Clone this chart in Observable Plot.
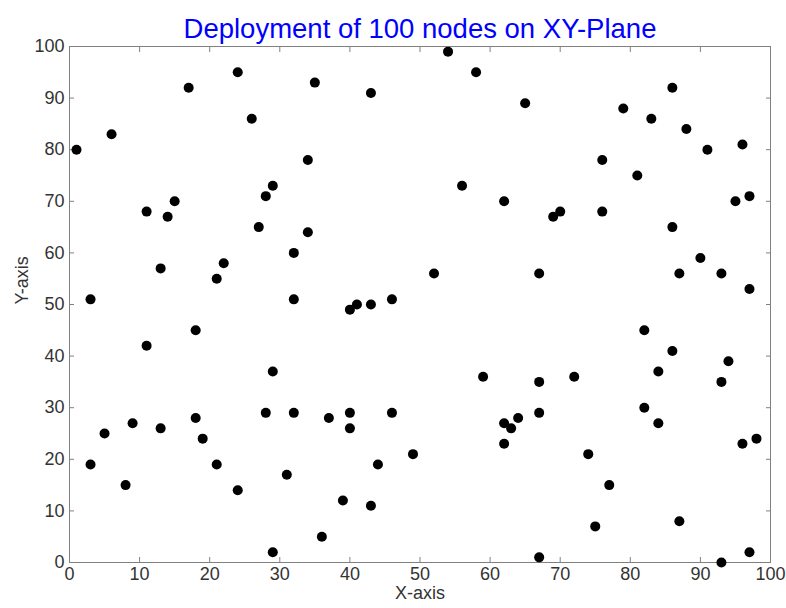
<!DOCTYPE html>
<html>
<head>
<meta charset="utf-8">
<script src="https://cdn.jsdelivr.net/npm/d3@7"></script>
<script src="https://cdn.jsdelivr.net/npm/@observablehq/plot@0.6"></script>
<style>
  html, body { margin: 0; padding: 0; background: #fff; }
  #chart svg { display: block; }
</style>
</head>
<body>
<div id="chart"></div>
<script>
const title = "Deployment of 100 nodes on XY-Plane";
const xLabel = "X-axis";
const yLabel = "Y-axis";
const xTicks = [0, 10, 20, 30, 40, 50, 60, 70, 80, 90, 100];
const yTicks = [0, 10, 20, 30, 40, 50, 60, 70, 80, 90, 100];

const nodeX = [1, 3, 3, 5, 6, 8, 9, 11, 11, 13, 13, 14, 15, 17, 18, 18, 19, 21, 21, 22,
  24, 24, 26, 27, 28, 28, 29, 29, 29, 31, 32, 32, 32, 34, 34, 35, 36, 37, 39, 40,
  40, 40, 41, 43, 43, 43, 44, 46, 46, 49, 52, 54, 56, 58, 59, 62, 62, 62, 63, 64,
  65, 67, 67, 67, 67, 69, 70, 72, 74, 75, 76, 76, 77, 79, 81, 82, 82, 83, 84, 84,
  86, 86, 86, 87, 87, 88, 90, 91, 93, 93, 93, 94, 95, 96, 96, 97, 97, 97, 98];
const nodeY = [80, 51, 19, 25, 83, 15, 27, 68, 42, 57, 26, 67, 70, 92, 45, 28, 24, 55, 19, 58,
  95, 14, 86, 65, 71, 29, 73, 37, 2, 17, 60, 51, 29, 78, 64, 93, 5, 28, 12, 49,
  29, 26, 50, 91, 50, 11, 19, 51, 29, 21, 56, 99, 73, 95, 36, 70, 27, 23, 26, 28,
  89, 56, 35, 29, 1, 67, 68, 36, 21, 7, 78, 68, 15, 88, 75, 45, 30, 86, 37, 27,
  92, 65, 41, 56, 8, 84, 59, 80, 56, 35, 0, 39, 70, 81, 23, 71, 53, 2, 24];

const nodes = nodeX.map((x, i) => ({x, y: nodeY[i]}));

const axisStroke = "#808080";
const labelFill = "#333333";

const chart = Plot.plot({
  width: 786,
  height: 608,
  marginTop: 46,
  marginBottom: 46,
  marginLeft: 69,
  marginRight: 16,
  style: {fontFamily: "Liberation Sans, Arial, sans-serif", fontSize: "18px", background: "#fff"},
  x: {domain: [0, 100]},
  y: {domain: [0, 100]},
  marks: [
    Plot.frame({stroke: axisStroke}),
    Plot.axisX({anchor: "bottom", ticks: xTicks, tickSize: -5, tickPadding: 10, stroke: axisStroke, fill: labelFill, label: null, fontSize: 18}),
    Plot.axisX({anchor: "top", ticks: xTicks, tickSize: -5, tickFormat: () => "", stroke: axisStroke, label: null}),
    Plot.axisY({anchor: "left", ticks: yTicks, tickSize: -5, tickPadding: 10, stroke: axisStroke, fill: labelFill, label: null, fontSize: 18}),
    Plot.axisY({anchor: "right", ticks: yTicks, tickSize: -5, tickFormat: () => "", stroke: axisStroke, label: null}),
    Plot.dot(nodes, {x: "x", y: "y", r: 5, fill: "black"}),
    Plot.text([title], {frameAnchor: "top", dy: -28, fill: "#0000ff", fontSize: 27.5}),
    Plot.text([xLabel], {frameAnchor: "bottom", dy: 36, fill: labelFill, fontSize: 18}),
    Plot.text([yLabel], {frameAnchor: "left", dx: -47, rotate: -90, fill: labelFill, fontSize: 18})
  ]
});
document.getElementById("chart").appendChild(chart);
</script>
</body>
</html>
